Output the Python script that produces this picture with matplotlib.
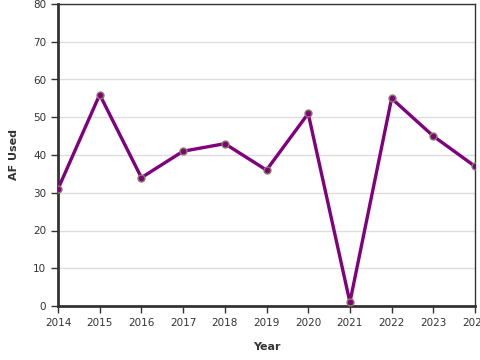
import matplotlib
matplotlib.use("Agg")
import matplotlib.pyplot as plt

# AF used per year
years = [2014, 2015, 2016, 2017, 2018, 2019, 2020, 2021, 2022, 2023, 2024]
af_used = [31, 56, 34, 41, 43, 36, 51, 1, 55, 45, 37]

fig = plt.figure(figsize=(4.8, 3.6), dpi=100)
ax = fig.add_axes([58 / 480, 54 / 360, 417 / 480, 302 / 360])

ax.plot(years, af_used, color="#800080", linewidth=2.4, zorder=3,
        marker="o", markersize=5, markerfacecolor="#800080",
        markeredgecolor="#8a8060", markeredgewidth=1.0)

ax.set_xlim(2014, 2024)
ax.set_ylim(0, 80)
ax.set_xticks(years)
ax.set_yticks(range(0, 81, 10))
ax.grid(axis="y", color="#dddddd", linewidth=1)
ax.set_axisbelow(True)

for side in ["top", "right"]:
    ax.spines[side].set_linewidth(1)
    ax.spines[side].set_color("#333333")
for side in ["left", "bottom"]:
    ax.spines[side].set_linewidth(2)
    ax.spines[side].set_color("#333333")

ax.tick_params(labelsize=7.5, colors="#333333", length=5, width=1)
ax.set_xlabel("Year", fontsize=8, fontweight="bold", color="#333333", labelpad=10)
ax.set_ylabel("AF Used", fontsize=8, fontweight="bold", color="#333333", labelpad=10)

fig.savefig("out.png", dpi=100)
